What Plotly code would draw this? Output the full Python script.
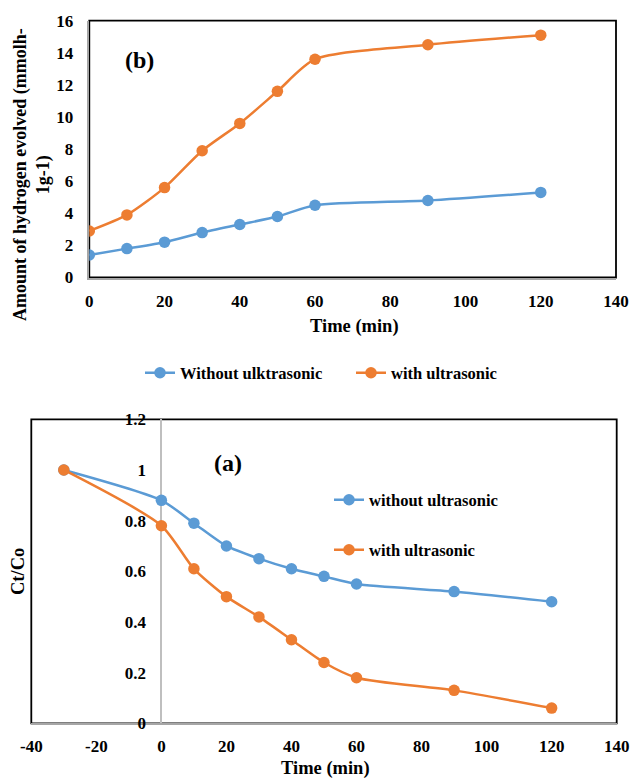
import plotly.graph_objects as go

# ---- data ----
time_b = [0, 10, 20, 30, 40, 50, 60, 90, 120]
h2_without = [1.4, 1.8, 2.2, 2.8, 3.3, 3.8, 4.5, 4.8, 5.3]
h2_with = [2.9, 3.9, 5.6, 7.9, 9.6, 11.6, 13.6, 14.5, 15.1]

time_a = [-30, 0, 10, 20, 30, 40, 50, 60, 90, 120]
ct_without = [1.0, 0.88, 0.79, 0.70, 0.65, 0.61, 0.58, 0.55, 0.52, 0.48]
ct_with = [1.0, 0.78, 0.61, 0.50, 0.42, 0.33, 0.24, 0.18, 0.13, 0.06]

xticks_a = [-40, -20, 0, 20, 40, 60, 80, 100, 120, 140]
xticklabels_a = ["-40", "-20", "0", "20", "40", "60", "80", "100", "120", "140"]

names_b = ["Without ulktrasonic", "with ultrasonic"]
names_a = ["without ultrasonic", "with ultrasonic"]

BLUE = "#5B9BD5"
ORANGE = "#ED7D31"
AXGRAY = "#A6A6A6"
FONT = "Liberation Serif"
W, H = 632, 778

def px(x):
    return x / W

def py(y):
    return 1 - y / H

fig = go.Figure()

def add(x, y, name, color, xa, ya, legend):
    fig.add_trace(go.Scatter(
        x=x, y=y, name=name, mode="lines+markers",
        line=dict(color=color, width=2.5, shape="spline", smoothing=0.7),
        marker=dict(color=color, size=11.5),
        xaxis=xa, yaxis=ya, legend=legend))

add(time_b, h2_without, names_b[0], BLUE, "x", "y", "legend")
add(time_b, h2_with, names_b[1], ORANGE, "x", "y", "legend2")
add(time_a, ct_without, names_a[0], BLUE, "x2", "y2", "legend3")
add(time_a, ct_with, names_a[1], ORANGE, "x2", "y2", "legend4")

tickfont = dict(family=FONT, size=17, color="black", weight="bold")
legfont = dict(family=FONT, size=16.5, color="black", weight="bold")

x_dom_b = [px(89.3), px(616)]
y_dom_b = [py(277.5), py(20.7)]
x_dom_a = [px(31.3), px(616.7)]
y_dom_a = [py(723.3), py(419.3)]
ypos_a = x_dom_a[0] + (40 / 180) * (x_dom_a[1] - x_dom_a[0])

def leg(x, y):
    return dict(x=x, y=y, xanchor="left", yanchor="middle", font=legfont,
                bgcolor="rgba(0,0,0,0)", orientation="h")

common = dict(showgrid=False, automargin=False, ticks="outside",
              tickcolor="rgba(0,0,0,0)", tickfont=tickfont)

fig.update_layout(
    template="none",
    width=W, height=H,
    margin=dict(l=0, r=0, t=0, b=0, pad=0),
    plot_bgcolor="white", paper_bgcolor="white",
    font=dict(family=FONT, color="black"),
    xaxis=dict(domain=x_dom_b, anchor="y", range=[0, 140], dtick=20, tick0=0,
               zeroline=False, showline=True, linecolor=AXGRAY, linewidth=1.5,
               ticklen=7, **common),
    yaxis=dict(domain=y_dom_b, anchor="x", range=[0, 16], dtick=2, tick0=0,
               zeroline=False, showline=True, linecolor=AXGRAY, linewidth=1.5,
               ticklen=11, **common),
    xaxis2=dict(domain=x_dom_a, anchor="y2", range=[-40, 140],
                tickmode="array", tickvals=xticks_a, ticktext=xticklabels_a,
                zeroline=True, zerolinecolor="#BFBFBF", zerolinewidth=1.5,
                showline=True, linecolor=AXGRAY, linewidth=1.5,
                ticklen=7, **common),
    yaxis2=dict(domain=y_dom_a, anchor="free", position=ypos_a, range=[0, 1.2], dtick=0.2,
                tick0=0, zeroline=False, showline=False, ticklen=12, **common),
    legend=leg(px(140), py(373)),
    legend2=leg(px(351), py(373)),
    legend3=leg(px(329), py(500)),
    legend4=leg(px(329), py(550)),
    showlegend=True,
)

# plot-area frames
for xr, yr in (("x domain", "y domain"), ("x2 domain", "y2 domain")):
    fig.add_shape(type="rect", xref=xr, yref=yr, x0=0, x1=1, y0=0, y1=1,
                  line=dict(color="black", width=1.8), layer="below")

def note(text, x, y, size=18.5, angle=0):
    fig.add_annotation(text=text, x=px(x), y=py(y), xref="paper", yref="paper",
                       xanchor="center", yanchor="middle", showarrow=False,
                       textangle=angle,
                       font=dict(family=FONT, size=size, color="black", weight="bold"))

note("Time (min)", 354, 326)
note("Time (min)", 325, 768)
note("Amount of hydrogen evolved (mmolh-<br>1g-1)", 32, 175, size=18, angle=-90)
note("Ct/Co", 18, 572, angle=-90)
note("(b)", 139, 60, size=24)
note("(a)", 228, 463, size=24)

fig.write_html("out.html")
